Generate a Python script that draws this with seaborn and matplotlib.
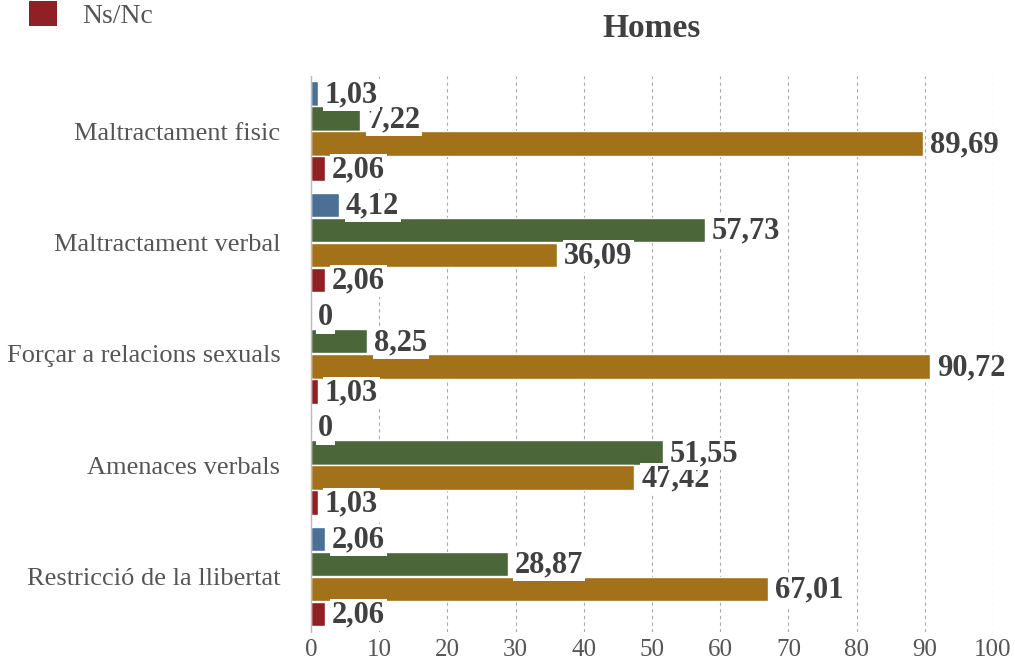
import matplotlib
matplotlib.use("Agg")
import matplotlib.pyplot as plt
import seaborn as sns
import pandas as pd
from matplotlib.patches import Patch

categories = ["Maltractament fisic", "Maltractament verbal", "Forçar a relacions sexuals",
              "Amenaces verbals", "Restricció de la llibertat"]
series_names = ["Gens", "Una mica", "Molt", "Ns/Nc"]
values_gens = [1.03, 4.12, 0, 0, 2.06]
values_una_mica = [7.22, 57.73, 8.25, 51.55, 28.87]
values_molt = [89.69, 36.09, 90.72, 47.42, 67.01]
values_nsnc = [2.06, 2.06, 1.03, 1.03, 2.06]
x_ticks = [0, 10, 20, 30, 40, 50, 60, 70, 80, 90, 100]
colors = ["#4a7096", "#4b6639", "#a37119", "#8f2024"]

rows = []
for name, vals in zip(series_names, [values_gens, values_una_mica, values_molt, values_nsnc]):
    for c, v in zip(categories, vals):
        rows.append({"cat": c, "serie": name, "val": v})
df = pd.DataFrame(rows)

sns.set_theme(style="white")
plt.rcParams["font.family"] = ["Liberation Serif", "DejaVu Serif"]

fig = plt.figure(figsize=(10.15, 6.67), dpi=100)
ax = fig.add_axes([0.3064, 0.0525, 0.6719, 0.8343])

sns.barplot(data=df, y="cat", x="val", hue="serie", order=categories,
            hue_order=series_names, palette=colors, orient="h",
            width=0.9, gap=0.02, ax=ax, legend=False, saturation=1)

n = len(ax.containers)
for i, cont in enumerate(ax.containers):
    for bar in cont:
        v = bar.get_width()
        txt = ("%.2f" % v).replace(".", ",") if v != 0 else "0"
        ax.annotate(txt, (v, bar.get_y() + bar.get_height() / 2),
                    xytext=(5, -1), textcoords="offset points",
                    ha="left", va="center", fontsize=22, fontweight="bold",
                    color="#404040", zorder=5 + (n - i),
                    bbox=dict(boxstyle="square,pad=0.05", fc="white", ec="none"))

ax.set_xlim(0, 100)
ax.set_ylim(len(categories) - 0.5, -0.5)
ax.set_xticks(x_ticks)
ax.set_xticklabels([str(t) for t in x_ticks], fontsize=18, color="#555555")
ax.tick_params(axis="y", labelsize=19, labelcolor="#555555", length=0, pad=22)
ax.tick_params(axis="x", length=0, pad=5)
ax.set_xlabel("")
ax.set_ylabel("")
ax.xaxis.grid(True, linestyle=(0, (3, 3)), color="#aaaaaa", linewidth=0.8)
ax.set_axisbelow(True)
for s in ["top", "right", "bottom"]:
    ax.spines[s].set_visible(False)
ax.spines["left"].set_color("#bbbbbb")
ax.spines["left"].set_linewidth(1)

ax.set_title("Homes", fontsize=24, fontweight="bold", color="#404040", pad=28)

fig.legend(handles=[Patch(facecolor=colors[3], edgecolor="none")], labels=["Ns/Nc"],
           loc="upper left", bbox_to_anchor=(0.004, 1.036), frameon=False,
           fontsize=20, handlelength=1.0, handleheight=1.0, labelcolor="#555555",
           handletextpad=0.9)

fig.savefig("out.png", dpi=100)
